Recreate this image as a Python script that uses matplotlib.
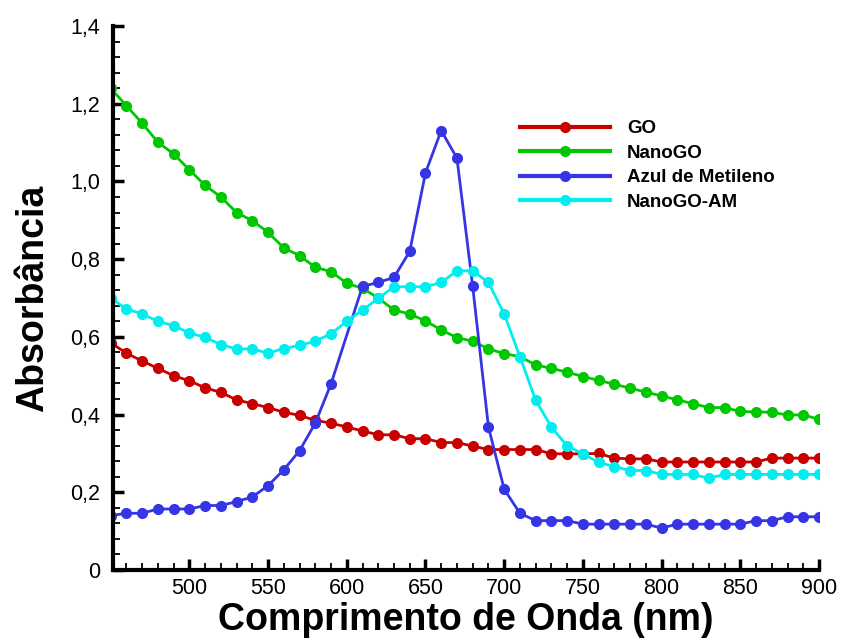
import matplotlib.pyplot as plt
import numpy as np
from matplotlib.ticker import MultipleLocator, FuncFormatter


comprimento = list(range(450, 901, 10))
# o azul de metileno nao tem ponto em 600 nm
comprimentoAM = [c for c in comprimento if c != 600]

go = [0.585, 0.558, 0.538, 0.519, 0.500, 0.487, 0.469, 0.457, 0.438, 0.428,
	0.418, 0.406, 0.398, 0.385, 0.378, 0.368, 0.358, 0.348, 0.348, 0.338,
	0.338, 0.328, 0.328, 0.319, 0.310, 0.310, 0.310, 0.310, 0.299, 0.299,
	0.299, 0.300, 0.288, 0.286, 0.286, 0.278, 0.278, 0.278, 0.278, 0.278,
	0.278, 0.278, 0.288, 0.288, 0.288, 0.288]

nanoGO = [1.24, 1.195, 1.150, 1.101, 1.071, 1.030, 0.990, 0.960, 0.920, 0.899,
	0.869, 0.829, 0.809, 0.779, 0.768, 0.738, 0.725, 0.700, 0.669, 0.659,
	0.641, 0.618, 0.598, 0.589, 0.569, 0.557, 0.549, 0.528, 0.519, 0.509,
	0.498, 0.488, 0.478, 0.468, 0.458, 0.448, 0.438, 0.428, 0.418, 0.418,
	0.408, 0.407, 0.406, 0.399, 0.399, 0.388]

azulMetileno = [0.140, 0.146, 0.146, 0.157, 0.157, 0.157, 0.166, 0.166, 0.176, 0.188,
	0.217, 0.258, 0.307, 0.378, 0.479, 0.730, 0.740, 0.753, 0.820, 1.022,
	1.131, 1.060, 0.730, 0.368, 0.208, 0.146, 0.127, 0.127, 0.127, 0.118,
	0.118, 0.118, 0.118, 0.118, 0.108, 0.118, 0.118, 0.118, 0.118, 0.118,
	0.127, 0.127, 0.137, 0.137, 0.137]

nanoGOAM = [0.700, 0.672, 0.659, 0.640, 0.629, 0.610, 0.599, 0.580, 0.569, 0.569,
	0.558, 0.570, 0.578, 0.589, 0.608, 0.640, 0.669, 0.699, 0.729, 0.729,
	0.729, 0.740, 0.770, 0.770, 0.740, 0.659, 0.549, 0.437, 0.368, 0.319,
	0.299, 0.277, 0.266, 0.256, 0.256, 0.246, 0.246, 0.246, 0.236, 0.246,
	0.246, 0.246, 0.246, 0.246, 0.246, 0.246]

rotulos = ['GO', 'NanoGO', 'Azul de Metileno', 'NanoGO-AM']
cores = ['#c80000', '#00c800', '#3535e6', '#00eeee']

xTicks = [500, 550, 600, 650, 700, 750, 800, 850, 900]
yTicks = [0, 0.2, 0.4, 0.6, 0.8, 1.0, 1.2, 1.4]


def virgula(valor, pos):
	if abs(valor) < 1e-9:
		return '0'
	return ('%.1f' % valor).replace('.', ',')


def grafico():
	plt.rcParams['font.family'] = ['Liberation Sans', 'DejaVu Sans']

	fig = plt.figure(figsize=(8.42, 6.44), dpi=100)
	ax = fig.add_axes([0.1342, 0.1149, 0.8385, 0.8447])

	series = [(comprimento, go), (comprimento, nanoGO), (comprimentoAM, azulMetileno), (comprimento, nanoGOAM)]
	for (x, y), rotulo, cor in zip(series, rotulos, cores):
		ax.plot(x, y, color=cor, linewidth=2, marker='o', markersize=7, label=rotulo)

	ax.set_xlim(451.5, 900)
	ax.set_ylim(0, 1.4)
	ax.set_xticks(xTicks)
	ax.set_yticks(yTicks)
	ax.xaxis.set_minor_locator(MultipleLocator(10))
	ax.yaxis.set_minor_locator(MultipleLocator(0.04))
	ax.yaxis.set_major_formatter(FuncFormatter(virgula))

	ax.spines['top'].set_visible(False)
	ax.spines['right'].set_visible(False)
	for lado in ['left', 'bottom']:
		ax.spines[lado].set_linewidth(3)
	ax.tick_params(which='major', direction='in', length=8, width=2.5, labelsize=15.5)
	ax.tick_params(axis='y', which='major', pad=9)
	ax.tick_params(axis='x', which='major', pad=6)
	ax.tick_params(which='minor', direction='in', length=5, width=1.3)

	ax.set_xlabel('Comprimento de Onda (nm)', fontsize=27, fontweight='bold', labelpad=2)
	ax.set_ylabel('Absorbância', fontsize=27, fontweight='bold', labelpad=14)

	leg = ax.legend(loc='upper left', bbox_to_anchor=(520/842, 1 - 120/644), bbox_transform=fig.transFigure,
		frameon=False, borderpad=0, borderaxespad=0, handlelength=4.8, handletextpad=0.9,
		labelspacing=0.4, prop={'weight': 'bold', 'size': 13.5})
	for linha in leg.get_lines():
		linha.set_linewidth(3)

	plt.savefig('out.png', dpi=100)


if __name__ == "__main__":
	grafico()
